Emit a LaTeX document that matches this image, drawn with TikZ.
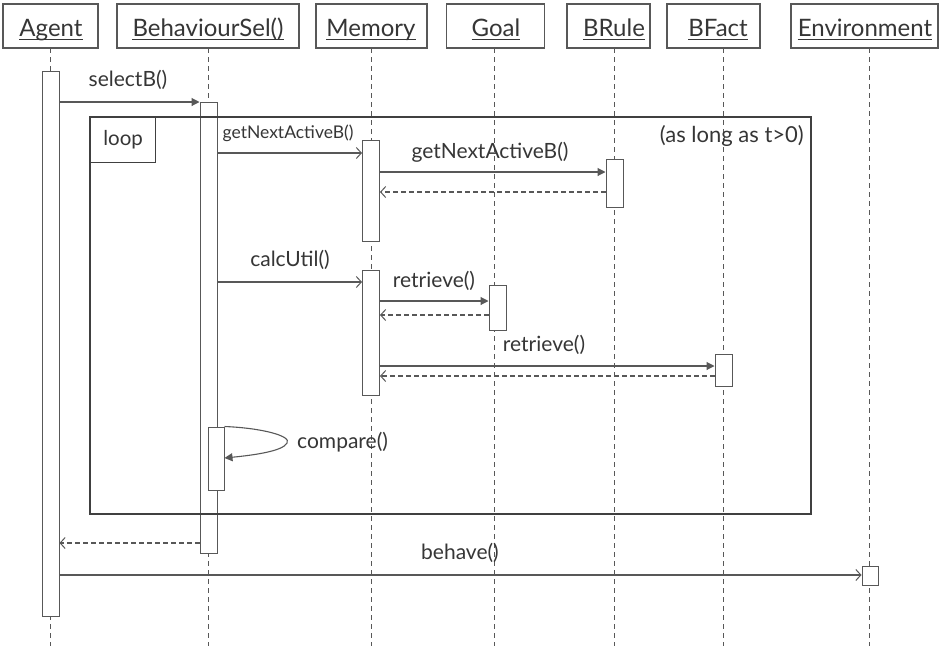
\documentclass[tikz,border=0pt]{standalone}
\usepackage{fontspec}
\setmainfont{Lato}
\usetikzlibrary{arrows.meta}
\definecolor{linec}{HTML}{585858}
\definecolor{framec}{HTML}{404040}
\definecolor{txt}{HTML}{363636}
\begin{document}
\begin{tikzpicture}[x=1pt,y=-1pt,
  hdr/.style={draw=linec, line width=1.1pt, fill=white, minimum height=44pt, inner sep=0pt},
  hdrtxt/.style={text=txt, inner sep=0pt, anchor=base, font=\fontsize{24}{26}\selectfont},
  ul/.style={draw=txt, line width=1.1pt},
  lifeline/.style={draw=linec, line width=0.8pt, dash pattern=on 5pt off 4pt},
  act/.style={draw=linec, line width=1pt, fill=white, inner sep=0pt, minimum width=17pt},
  msg/.style={draw=linec, line width=1.1pt},
  ret/.style={draw=linec, line width=1.1pt, dash pattern=on 5pt off 3pt},
  filledtip/.style={-{Triangle[length=8pt,width=8pt]}},
  opentip/.style={-{Straight Barb[length=5pt,width=11pt,line width=1pt]}},
  lbl/.style={text=txt, inner sep=0pt, font=\fontsize{21}{23}\selectfont},
  slbl/.style={text=txt, inner sep=0pt, font=\fontsize{17.5}{19}\selectfont}]
\useasboundingbox (0,0) rectangle (948,646);
\fill[white] (0,0) rectangle (948,646);

% headers
\node[hdr, minimum width=95pt]  (hA) at (50.5,26) {};
\node[hdr, minimum width=182pt] (hB) at (208,26) {};
\node[hdr, minimum width=111pt] (hM) at (371.5,26) {};
\node[hdr, minimum width=98pt]  (hG) at (495.5,26) {};
\node[hdr, minimum width=83pt]  (hR) at (608.5,26) {};
\node[hdr, minimum width=93pt]  (hF) at (713.5,26) {};
\node[hdr, minimum width=147pt] (hE) at (864.5,26) {};
\node[hdrtxt] (tA) at (51,36) {Agent};
\node[hdrtxt] (tB) at (208,36) {BehaviourSel()};
\node[hdrtxt] (tM) at (371,36) {Memory};
\node[hdrtxt] (tG) at (496,36) {Goal};
\node[hdrtxt] (tR) at (614,36) {BRule};
\node[hdrtxt] (tF) at (718,36) {BFact};
\node[hdrtxt] (tE) at (865,36) {Environment};
\foreach \t in {tA,tB,tM,tG,tR,tF,tE}
  \draw[ul] ([yshift=-3.2pt]\t.base west) -- ([yshift=-3.2pt]\t.base east);

% lifelines
\draw[lifeline] (50,48) -- (50,646);
\draw[lifeline] (208,48) -- (208,646);
\draw[lifeline] (371,48) -- (371,646);
\draw[lifeline] (494,48) -- (494,646);
\draw[lifeline] (614,48) -- (614,646);
\draw[lifeline] (723.5,48) -- (723.5,646);
\draw[lifeline] (869.5,48) -- (869.5,646);

% activations
\node[act, minimum height=545pt] (aA) at (50.5,343.5) {};
\node[act, minimum height=451pt] (aB) at (208.5,327.5) {};
\node[act, minimum height=101pt] (aM1) at (371,190.5) {};
\node[act, minimum height=48pt]  (aR) at (614.5,183) {};
\node[act, minimum height=125pt] (aM2) at (371,332.5) {};
\node[act, minimum height=45pt]  (aG) at (497.5,307.5) {};
\node[act, minimum height=32pt]  (aF) at (723.5,370) {};
\node[act, minimum height=63pt, minimum width=16pt] (aC) at (216,458.5) {};
\node[act, minimum height=19pt, minimum width=16pt] (aE) at (870,575.5) {};

% loop frame
\draw[draw=framec, line width=1.3pt] (90,117) rectangle (811,514);
\node[draw=framec, line width=1.2pt, minimum width=65pt, minimum height=45pt, inner sep=0pt, anchor=north west, text=txt, font=\fontsize{20.5}{22}\selectfont] (loop) at (90,117) {loop};
\node[text=txt, inner sep=0pt, font=\fontsize{22}{24}\selectfont, anchor=east] (cond) at (804,136) {(as long as t>0)};

% messages
\node[lbl] (l1) at (128,80) {selectB()};
\draw[msg, filledtip] (aA.east |- 0,102) -- (aB.west |- 0,102);

\node[slbl] (l2) at (288,133) {getNextActiveB()};
\draw[msg, opentip] (aB.east |- 0,153) -- (aM1.west |- 0,153);

\node[lbl] (l3) at (490,152) {getNextActiveB()};
\draw[msg, filledtip] (aM1.east |- 0,172) -- (aR.west |- 0,172);
\draw[ret, opentip] (aR.west |- 0,192) -- (aM1.east |- 0,192);

\node[lbl] (l4) at (290,260) {calcUtil()};
\draw[msg, opentip] (aB.east |- 0,282) -- (aM2.west |- 0,282);

\node[lbl] (l5) at (434,281) {retrieve()};
\draw[msg, filledtip] (aM2.east |- 0,301) -- (aG.west |- 0,301);
\draw[ret, opentip] (aG.west |- 0,315) -- (aM2.east |- 0,315);

\node[lbl] (l6) at (544,345) {retrieve()};
\draw[msg, filledtip] (aM2.east |- 0,366) -- (aF.west |- 0,366);
\draw[ret, opentip] (aF.west |- 0,376) -- (aM2.east |- 0,376);

\node[lbl, anchor=west] (l7) at (297,442) {compare()};
\draw[msg, filledtip] (aC.north east) .. controls (262,428) and (292,436) .. (287,443)
  .. controls (283,451) and (255,455) .. (aC.east |- 0,458);

\draw[ret, opentip] (aB.west |- 0,543) -- (aA.east |- 0,543);

\node[lbl] (l8) at (460,553) {behave()};
\draw[msg, opentip] (aA.east |- 0,575) -- (aE.west |- 0,575);
\end{tikzpicture}
\end{document}
